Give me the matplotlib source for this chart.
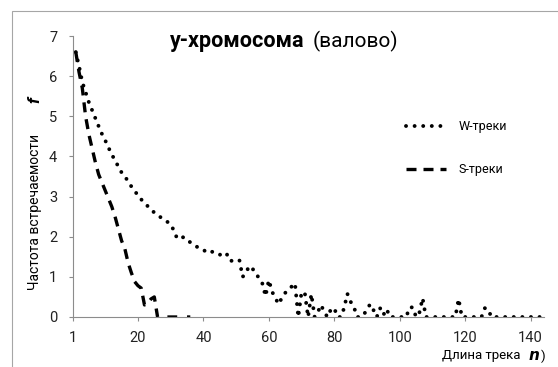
import numpy as np
import matplotlib
matplotlib.use("Agg")
import matplotlib.pyplot as plt
from matplotlib.patches import Rectangle

plt.rcParams['font.family'] = ['Roboto', 'DejaVu Sans']

# данные: длина трека n и частота встречаемости f
n_w = np.arange(1, 144)
f_w = [6.6, 6.25, 5.85, 5.6, 5.35, 5.15, 4.95, 4.75, 4.56, 4.4,
       4.22, 4.05, 3.9, 3.75, 3.6, 3.5, 3.38, 3.25, 3.15, 3.02,
       2.93, 2.84, 2.76, 2.68, 2.6, 2.54, 2.48, 2.43, 2.37, 2.31,
       2.15, 1.95, 1.97, 1.99, 1.92, 1.86, 1.8, 1.75, 1.71, 1.68,
       1.6, 1.61, 1.63, 1.59, 1.55, 1.58, 1.6, 1.4, 1.4, 1.4,
       1.42, 1.0, 1.1, 1.27, 1.2, 1.12, 0.95, 0.84, 0.52, 0.92,
       0.63, 0.47, 0.32, 0.48, 0.6, 0.68, 0.76, 0.84, 0.0, 0.62,
       0.6, 0.0, 0.57, 0.0, 0.13, 0.3, 0.1, 0.0, 0.2, 0.22,
       0.0, 0.0, 0.22, 0.58, 0.38, 0.25, 0.0, 0.0, 0.05, 0.2,
       0.32, 0.17, 0.0, 0.22, 0.05, 0.2, 0.0, 0.0, 0.0, 0.0,
       0.0, 0.0, 0.24, 0.24, 0.0, 0.1, 0.47, 0.0, 0.0, 0.0,
       0.0, 0.0, 0.0, 0.0, 0.0, 0.0, 0.0, 0.45, 0.0, 0.0,
       0.0, 0.0, 0.0, 0.0, 0.0, 0.22, 0.2, 0.0, 0.0, 0.0,
       0.0, 0.0, 0.0, 0.0, 0.0, 0.0, 0.0, 0.0, 0.0, 0.0,
       0.0, 0.0, 0.0]

n_s = np.arange(1, 37)
f_s = [6.6, 6.1, 5.7, 5.0, 4.55, 4.2, 3.85, 3.55, 3.35, 3.15,
       2.95, 2.75, 2.5, 2.2, 1.9, 1.7, 1.35, 1.1, 0.88, 0.78,
       0.72, 0.3, 0.35, 0.45, 0.5, 0.0, np.nan, np.nan, 0.0, 0.0,
       0.0, 0.0, np.nan, np.nan, 0.0, 0.0]

xticks = [0, 20, 40, 60, 80, 100, 120, 140]
xticklabels = ['1', '20', '40', '60', '80', '100', '120', '140']

W, H = 558, 367
def px(x, y):
    return x / W, 1 - y / H

fig = plt.figure(figsize=(W / 100, H / 100), dpi=100)

# рамка диаграммы (правый и нижний края за пределами картинки)
fig.patches.append(Rectangle(px(12, 420), 1.2, (420 - 11) / H, transform=fig.transFigure,
                             fill=False, edgecolor='#a6a6a6', linewidth=0.8))

l, b = px(72.5, 317)
r, t = px(544, 36)
ax = fig.add_axes([l, b, r - l, t - b])

ax.plot(n_w, f_w, color='black', linewidth=2.8, linestyle=(0, (0.01, 2.2)),
        dash_capstyle='round', label='W-треки')
ax.plot(n_s, f_s, color='black', linewidth=2.4, linestyle=(0, (3, 2.1)),
        dash_capstyle='butt', label='S-треки')

ax.set_xlim(0, 144.1)
ax.set_ylim(0, 7)
ax.set_xticks(xticks)
ax.set_xticklabels(xticklabels)
ax.set_yticks(range(0, 8))

for s in ['top', 'right']:
    ax.spines[s].set_visible(False)
for s in ['left', 'bottom']:
    ax.spines[s].set_color('#8c8c8c')
    ax.spines[s].set_linewidth(0.8)
ax.tick_params(direction='out', length=3, width=0.8, color='#8c8c8c',
               labelsize=10.5, labelcolor='#222222')
ax.tick_params(axis='y', pad=8)
ax.tick_params(axis='x', pad=7)

ax.legend(loc='upper left', bbox_to_anchor=px(400, 114), bbox_transform=fig.transFigure,
          frameon=False, fontsize=9, handlelength=3.2, handletextpad=1.0,
          labelspacing=2.4, borderpad=0)

# заголовок
fig.canvas.draw()
rend = fig.canvas.get_renderer()
tb = fig.text(*px(170, 47), 'у-хромосома', fontsize=15.5, fontweight='bold', va='baseline')
bb = tb.get_window_extent(rend)
fig.text(bb.x1 / W + 8 / W, px(0, 47)[1], '(валово)', fontsize=15, va='baseline')

# подписи осей
fig.text(*px(35, 212), 'Частота встречаемости', rotation=90, fontsize=10,
         ha='center', va='center')
fig.text(*px(35, 100), 'f', rotation=90, fontsize=12.5, fontweight='bold',
         fontstyle='italic', ha='center', va='center')
fig.text(*px(481, 356), 'Длина трека', fontsize=9.5, ha='center', va='center')
fig.text(*px(540, 356), r'$\boldsymbol{n}$', fontsize=11, ha='right', va='center')
fig.text(*px(541, 356), ')', fontsize=9.5, ha='left', va='center')

fig.savefig('out.png', dpi=100)
